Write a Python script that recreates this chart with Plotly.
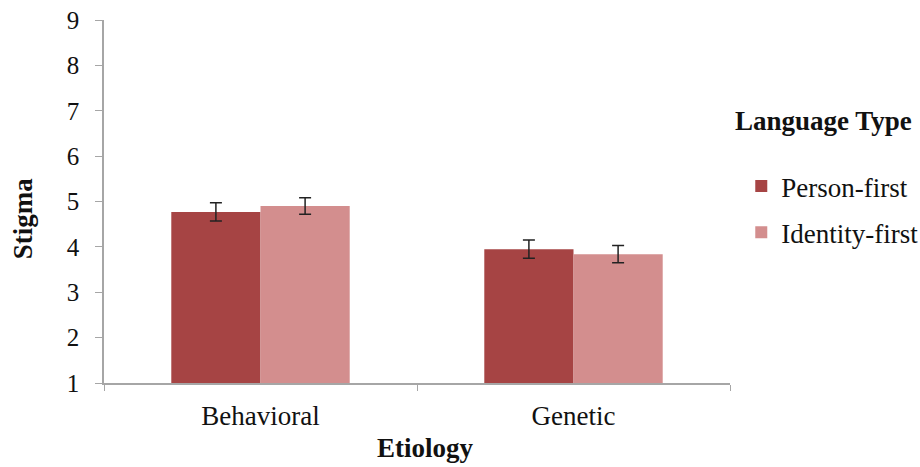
import plotly.graph_objects as go

categories = ["Behavioral", "Genetic"]
series_names = ["Person-first", "Identity-first"]
person_first = [4.77, 3.95]
identity_first = [4.90, 3.84]
person_first_err = [0.20, 0.20]
identity_first_err = [0.18, 0.19]
y_ticks = [1, 2, 3, 4, 5, 6, 7, 8, 9]

colors = ["#A64444", "#D38E8E"]
FONT = "Liberation Serif, Times New Roman, serif"

fig = go.Figure()
for name, vals, errs, col, grp in zip(series_names, [person_first, identity_first],
                                      [person_first_err, identity_first_err], colors, ["a", "b"]):
    fig.add_trace(go.Bar(
        x=categories, y=vals, name=name, marker=dict(color=col, line=dict(width=0)),
        error_y=dict(type="data", array=errs, color="#222222", thickness=1.5, width=6),
        legendgroup=grp,
    ))

fig.update_layout(
    width=920, height=467,
    margin=dict(l=104, r=190, t=20, b=84, autoexpand=False),
    paper_bgcolor="white", plot_bgcolor="white",
    font=dict(family=FONT, size=27, color="#111111"),
    barmode="group", bargap=0.43, bargroupgap=0,
    showlegend=True,
    legend=dict(x=1.018, xanchor="left", y=0.478, yanchor="middle",
                font=dict(family=FONT, size=27, color="#111111"),
                tracegroupgap=8, bgcolor="rgba(0,0,0,0)"),
)
fig.update_yaxes(range=[1, 9], tickvals=y_ticks, showgrid=False, zeroline=False,
                 showline=True, linecolor="#A6A6A6", linewidth=1.5,
                 ticks="outside", ticklen=7, tickcolor="#A6A6A6",
                 tickfont=dict(family=FONT, size=25), ticklabelstandoff=11)
fig.update_xaxes(showgrid=False, showline=True, linecolor="#A6A6A6", linewidth=1.5,
                 ticks="outside", ticklen=6, tickcolor="#A6A6A6", tickson="boundaries",
                 tickfont=dict(family=FONT, size=27), ticklabelstandoff=8)

fig.add_annotation(text="<b>Stigma</b>", textangle=-90, xref="paper", yref="paper",
                   x=-0.129, y=0.4545, xanchor="center", yanchor="middle", showarrow=False,
                   font=dict(family=FONT, size=27, color="#111111"))
fig.add_annotation(text="<b>Etiology</b>", xref="paper", yref="paper",
                   x=0.513, y=-0.179, xanchor="center", yanchor="middle", showarrow=False,
                   font=dict(family=FONT, size=27, color="#111111"))
fig.add_annotation(text="<b>Language Type</b>", xref="paper", yref="paper",
                   x=(733 - 104) / 626, y=(383 - 121) / 363, xanchor="left", yanchor="middle",
                   showarrow=False, font=dict(family=FONT, size=27, color="#111111"))

fig.write_html("out.html", config={"displayModeBar": False},
               post_script="document.body.style.margin='0';document.body.style.overflow='hidden';")
